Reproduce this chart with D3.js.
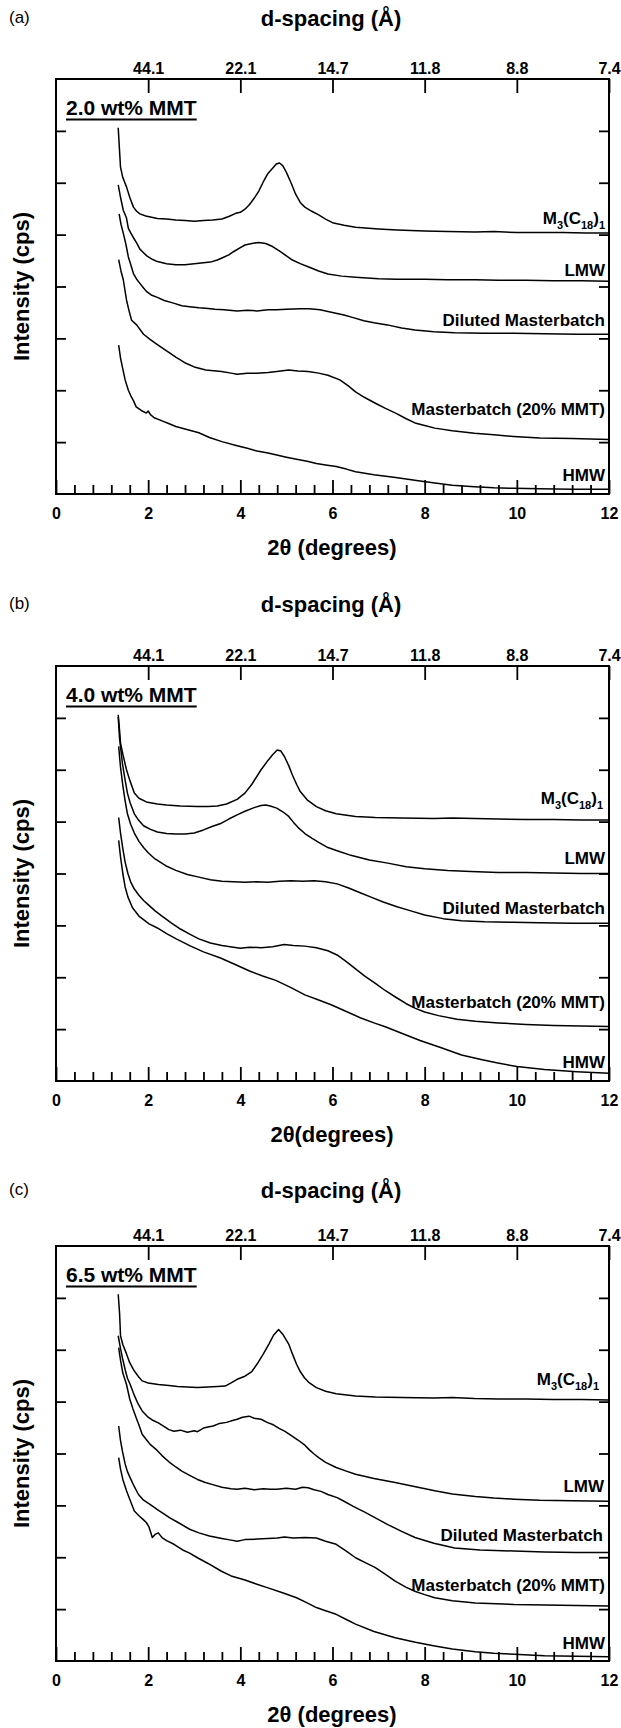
<!DOCTYPE html>
<html>
<head>
<meta charset="utf-8">
<script src="https://cdn.jsdelivr.net/npm/d3@7"></script>
<style>
  body { margin: 0; background: #fff; }
  svg text { font-family: "Liberation Sans", Arial, sans-serif; font-weight: bold; fill: #000; }
</style>
</head>
<body>
<svg id="fig" width="621" height="1728"></svg>
<script>
// ---- data: [2theta (deg), intensity (arb. units, 1 unit per y tick)] ----

// panel (a) 2.0 wt% MMT
const a_m3 = [[1.35,7.06],[1.38,6.6],[1.4,6.3],[1.45,6.1],[1.53,5.92],[1.6,5.72],[1.68,5.53],[1.75,5.45],[1.82,5.4],[1.95,5.36],[2.05,5.34],[2.2,5.31],[2.4,5.3],[2.6,5.28],[2.8,5.27],[3.0,5.26],[3.2,5.27],[3.4,5.28],[3.6,5.3],[3.75,5.35],[3.9,5.41],[4.0,5.43],[4.1,5.49],[4.2,5.58],[4.3,5.7],[4.4,5.84],[4.5,6.02],[4.6,6.18],[4.7,6.28],[4.78,6.36],[4.85,6.38],[4.92,6.33],[5.0,6.2],[5.1,6.0],[5.2,5.78],[5.3,5.62],[5.4,5.53],[5.55,5.45],[5.7,5.38],[5.85,5.3],[6.0,5.23],[6.25,5.18],[6.5,5.14],[7.0,5.11],[7.4,5.09],[8.0,5.07],[8.5,5.06],[9.1,5.05],[9.5,5.06],[10.0,5.04],[10.5,5.04],[11.0,5.04],[11.5,5.03],[12.0,5.03]];
const a_lmw = [[1.35,5.96],[1.4,5.72],[1.46,5.47],[1.53,5.32],[1.57,5.12],[1.63,5.02],[1.68,4.94],[1.75,4.84],[1.82,4.72],[1.9,4.65],[1.97,4.59],[2.1,4.52],[2.2,4.48],[2.4,4.44],[2.6,4.42],[2.8,4.42],[3.0,4.44],[3.2,4.46],[3.35,4.47],[3.5,4.51],[3.6,4.55],[3.75,4.61],[3.85,4.67],[4.0,4.75],[4.1,4.8],[4.25,4.83],[4.4,4.85],[4.55,4.83],[4.7,4.77],[4.87,4.67],[5.0,4.59],[5.13,4.51],[5.3,4.44],[5.47,4.38],[5.7,4.3],[5.9,4.24],[6.2,4.2],[6.5,4.18],[7.0,4.15],[7.4,4.14],[8.0,4.14],[8.5,4.13],[9.1,4.13],[9.6,4.12],[10.2,4.12],[10.8,4.11],[11.4,4.11],[12.0,4.1]];
const a_dil = [[1.37,5.4],[1.41,5.2],[1.46,5.03],[1.52,4.8],[1.57,4.57],[1.63,4.4],[1.68,4.25],[1.75,4.14],[1.82,4.06],[1.9,3.97],[1.97,3.9],[2.08,3.83],[2.2,3.79],[2.35,3.73],[2.55,3.68],[2.73,3.63],[2.9,3.61],[3.1,3.59],[3.25,3.58],[3.45,3.56],[3.65,3.55],[3.93,3.53],[4.15,3.54],[4.36,3.53],[4.6,3.55],[4.79,3.55],[5.0,3.56],[5.3,3.57],[5.5,3.57],[5.73,3.55],[6.0,3.5],[6.25,3.45],[6.45,3.4],[6.68,3.34],[6.9,3.3],[7.19,3.26],[7.5,3.2],[7.79,3.16],[8.2,3.13],[8.65,3.11],[9.3,3.1],[9.93,3.1],[10.6,3.09],[11.3,3.08],[12.0,3.08]];
const a_mb = [[1.36,4.52],[1.41,4.3],[1.46,4.13],[1.53,3.74],[1.58,3.55],[1.64,3.35],[1.75,3.26],[1.9,3.08],[2.04,2.98],[2.2,2.88],[2.4,2.76],[2.6,2.64],[2.82,2.52],[3.0,2.45],[3.25,2.39],[3.59,2.36],[3.8,2.33],[3.93,2.31],[4.15,2.33],[4.36,2.33],[4.6,2.34],[4.79,2.36],[5.05,2.39],[5.25,2.37],[5.47,2.36],[5.7,2.33],[5.9,2.29],[6.16,2.2],[6.35,2.08],[6.5,1.97],[6.7,1.86],[6.93,1.75],[7.15,1.65],[7.37,1.56],[7.6,1.45],[7.79,1.37],[8.0,1.32],[8.22,1.27],[8.6,1.22],[9.08,1.17],[9.5,1.14],[9.93,1.11],[10.5,1.08],[11.2,1.07],[12.0,1.05]];
const a_hmw = [[1.36,2.87],[1.4,2.62],[1.44,2.45],[1.5,2.2],[1.57,2.0],[1.63,1.88],[1.68,1.8],[1.74,1.68],[1.85,1.61],[1.96,1.56],[2.0,1.6],[2.05,1.53],[2.13,1.47],[2.3,1.41],[2.47,1.35],[2.6,1.3],[2.9,1.23],[3.1,1.18],[3.33,1.09],[3.6,1.01],[3.93,0.93],[4.15,0.88],[4.36,0.83],[4.6,0.79],[4.79,0.75],[5.0,0.71],[5.22,0.67],[5.45,0.63],[5.65,0.59],[5.85,0.56],[6.08,0.53],[6.3,0.48],[6.5,0.43],[6.9,0.37],[7.37,0.32],[7.9,0.25],[8.22,0.21],[8.6,0.17],[9.08,0.14],[9.5,0.12],[9.93,0.11],[10.5,0.1],[11.2,0.09],[12.0,0.09]];

// panel (b) 4.0 wt% MMT
const b_m3 = [[1.35,7.06],[1.38,6.75],[1.4,6.52],[1.45,6.3],[1.53,6.0],[1.6,5.8],[1.7,5.55],[1.8,5.45],[1.96,5.38],[2.2,5.34],[2.4,5.32],[2.7,5.3],[3.07,5.29],[3.3,5.29],[3.5,5.3],[3.7,5.34],[3.93,5.43],[4.1,5.55],[4.25,5.72],[4.45,6.0],[4.6,6.18],[4.7,6.29],[4.8,6.38],[4.88,6.36],[4.96,6.25],[5.05,6.08],[5.13,5.9],[5.22,5.72],[5.3,5.58],[5.45,5.42],[5.65,5.29],[5.85,5.21],[6.08,5.15],[6.5,5.1],[6.93,5.08],[7.5,5.07],[8.2,5.06],[8.6,5.07],[9.08,5.06],[9.6,5.05],[10.2,5.04],[10.8,5.04],[11.4,5.03],[12.0,5.03]];
const b_lmw = [[1.35,7.02],[1.38,6.6],[1.44,6.13],[1.5,5.8],[1.55,5.55],[1.61,5.36],[1.7,5.15],[1.79,5.03],[1.9,4.92],[2.05,4.85],[2.2,4.8],[2.4,4.77],[2.6,4.76],[2.8,4.76],[3.0,4.78],[3.2,4.84],[3.4,4.91],[3.59,4.97],[3.75,5.05],[3.93,5.13],[4.1,5.2],[4.3,5.27],[4.45,5.31],[4.55,5.32],[4.65,5.3],[4.79,5.26],[4.92,5.19],[5.05,5.1],[5.15,4.99],[5.25,4.89],[5.4,4.77],[5.55,4.68],[5.7,4.6],[5.9,4.5],[6.1,4.44],[6.4,4.35],[6.8,4.26],[7.2,4.2],[7.6,4.13],[8.0,4.09],[8.5,4.06],[9.0,4.04],[9.6,4.02],[10.2,4.02],[10.8,4.01],[11.4,4.0],[12.0,4.0]];
const b_dil = [[1.36,6.45],[1.4,6.05],[1.45,5.7],[1.5,5.4],[1.55,5.15],[1.62,4.95],[1.7,4.78],[1.8,4.62],[1.9,4.5],[2.0,4.4],[2.15,4.28],[2.38,4.15],[2.6,4.06],[2.85,3.98],[3.1,3.93],[3.35,3.88],[3.6,3.85],[3.85,3.84],[4.1,3.83],[4.35,3.84],[4.6,3.83],[4.85,3.85],[5.1,3.86],[5.35,3.85],[5.6,3.86],[5.85,3.84],[6.1,3.8],[6.35,3.72],[6.6,3.63],[6.85,3.54],[7.1,3.45],[7.4,3.36],[7.7,3.28],[8.0,3.2],[8.4,3.13],[8.8,3.09],[9.3,3.07],[9.9,3.06],[10.5,3.05],[11.2,3.04],[12.0,3.04]];
const b_mb = [[1.36,5.08],[1.4,4.78],[1.45,4.48],[1.5,4.22],[1.56,4.0],[1.62,3.84],[1.7,3.7],[1.8,3.58],[1.9,3.48],[2.0,3.4],[2.15,3.28],[2.3,3.18],[2.5,3.05],[2.7,2.93],[2.9,2.83],[3.1,2.74],[3.35,2.66],[3.6,2.61],[3.85,2.58],[4.0,2.56],[4.2,2.58],[4.45,2.57],[4.7,2.59],[4.95,2.63],[5.15,2.61],[5.4,2.6],[5.65,2.57],[5.9,2.51],[6.1,2.43],[6.3,2.3],[6.5,2.16],[6.7,2.02],[6.93,1.88],[7.15,1.74],[7.4,1.6],[7.6,1.49],[7.8,1.4],[8.0,1.33],[8.3,1.26],[8.7,1.19],[9.1,1.15],[9.6,1.12],[10.2,1.09],[10.8,1.07],[11.4,1.06],[12.0,1.05]];
const b_hmw = [[1.36,4.64],[1.4,4.32],[1.45,4.0],[1.5,3.74],[1.56,3.55],[1.66,3.34],[1.8,3.18],[2.02,3.03],[2.2,2.95],[2.4,2.84],[2.61,2.74],[2.9,2.61],[3.2,2.49],[3.57,2.37],[3.9,2.24],[4.2,2.12],[4.5,2.02],[4.77,1.94],[5.1,1.8],[5.4,1.66],[5.7,1.56],[5.97,1.47],[6.3,1.34],[6.6,1.22],[6.9,1.12],[7.16,1.04],[7.5,0.92],[7.9,0.78],[8.36,0.64],[8.8,0.5],[9.2,0.42],[9.56,0.35],[10.0,0.28],[10.6,0.22],[11.3,0.18],[12.0,0.15]];

// panel (c) 6.5 wt% MMT
const c_m3 = [[1.35,7.07],[1.38,6.7],[1.4,6.27],[1.45,6.1],[1.53,5.92],[1.6,5.75],[1.7,5.59],[1.8,5.47],[1.87,5.4],[2.0,5.36],[2.22,5.33],[2.45,5.31],[2.64,5.29],[2.85,5.28],[3.07,5.27],[3.3,5.28],[3.5,5.29],[3.67,5.3],[3.8,5.36],[3.93,5.43],[4.1,5.49],[4.25,5.58],[4.36,5.72],[4.5,5.92],[4.62,6.11],[4.72,6.28],[4.83,6.39],[4.92,6.3],[5.05,6.11],[5.13,5.92],[5.22,5.72],[5.3,5.58],[5.39,5.46],[5.5,5.36],[5.65,5.27],[5.85,5.2],[6.08,5.15],[6.5,5.11],[6.93,5.09],[7.5,5.08],[8.2,5.07],[8.6,5.08],[9.08,5.06],[9.6,5.05],[10.2,5.05],[10.8,5.04],[11.4,5.04],[12.0,5.03]];
const c_lmw = [[1.35,6.27],[1.4,6.02],[1.44,5.85],[1.5,5.62],[1.55,5.45],[1.61,5.33],[1.7,5.12],[1.78,4.96],[1.87,4.82],[2.0,4.7],[2.1,4.64],[2.22,4.59],[2.35,4.52],[2.45,4.46],[2.56,4.43],[2.7,4.45],[2.85,4.41],[3.0,4.44],[3.07,4.42],[3.2,4.49],[3.3,4.51],[3.41,4.53],[3.55,4.58],[3.7,4.6],[3.85,4.64],[3.93,4.66],[4.05,4.7],[4.19,4.72],[4.3,4.68],[4.45,4.66],[4.58,4.6],[4.7,4.56],[4.85,4.48],[4.96,4.43],[5.1,4.35],[5.25,4.26],[5.4,4.16],[5.5,4.07],[5.6,3.99],[5.7,3.92],[5.85,3.83],[6.08,3.73],[6.3,3.66],[6.5,3.6],[6.9,3.52],[7.36,3.44],[7.8,3.36],[8.22,3.28],[8.6,3.22],[9.1,3.17],[9.5,3.14],[9.94,3.12],[10.5,3.1],[11.2,3.09],[12.0,3.08]];
const c_dil = [[1.36,6.04],[1.4,5.8],[1.45,5.55],[1.53,5.33],[1.6,5.05],[1.67,4.86],[1.74,4.69],[1.8,4.55],[1.87,4.37],[1.95,4.28],[2.05,4.17],[2.17,4.08],[2.3,3.96],[2.45,3.84],[2.6,3.74],[2.73,3.66],[2.9,3.58],[3.07,3.5],[3.24,3.44],[3.4,3.4],[3.6,3.35],[3.8,3.32],[3.93,3.31],[4.1,3.33],[4.3,3.3],[4.5,3.32],[4.65,3.31],[4.79,3.31],[5.0,3.33],[5.2,3.31],[5.35,3.35],[5.47,3.34],[5.6,3.3],[5.75,3.27],[5.9,3.21],[6.1,3.15],[6.25,3.08],[6.45,2.98],[6.7,2.87],[6.93,2.76],[7.2,2.63],[7.5,2.5],[7.79,2.38],[8.2,2.27],[8.65,2.18],[9.2,2.14],[9.94,2.12],[10.6,2.1],[11.3,2.09],[12.0,2.09]];
const c_mb = [[1.36,4.53],[1.4,4.25],[1.44,4.05],[1.5,3.8],[1.55,3.65],[1.61,3.53],[1.7,3.36],[1.79,3.21],[1.9,3.1],[2.04,3.02],[2.2,2.92],[2.35,2.83],[2.47,2.76],[2.65,2.67],[2.9,2.54],[3.1,2.47],[3.33,2.41],[3.6,2.36],[3.8,2.33],[3.93,2.31],[4.1,2.34],[4.36,2.35],[4.6,2.36],[4.8,2.37],[4.96,2.39],[5.15,2.37],[5.4,2.38],[5.65,2.37],[5.85,2.31],[6.08,2.25],[6.3,2.12],[6.5,1.99],[6.7,1.9],[6.93,1.8],[7.15,1.67],[7.36,1.54],[7.6,1.42],[7.8,1.34],[8.0,1.28],[8.22,1.22],[8.6,1.16],[9.1,1.12],[9.94,1.09],[10.6,1.08],[11.3,1.07],[12.0,1.06]];
const c_hmw = [[1.36,3.92],[1.4,3.7],[1.45,3.5],[1.53,3.28],[1.6,3.12],[1.7,2.89],[1.8,2.8],[1.9,2.72],[1.96,2.67],[2.02,2.58],[2.09,2.38],[2.15,2.44],[2.22,2.47],[2.3,2.38],[2.4,2.32],[2.56,2.25],[2.75,2.14],[2.9,2.08],[3.07,1.99],[3.3,1.88],[3.59,1.73],[3.8,1.64],[4.1,1.56],[4.36,1.48],[4.6,1.41],[4.9,1.32],[5.22,1.22],[5.45,1.12],[5.65,1.03],[5.85,0.97],[6.08,0.9],[6.3,0.8],[6.5,0.71],[6.9,0.57],[7.36,0.45],[7.8,0.36],[8.22,0.29],[8.6,0.23],[9.1,0.18],[9.5,0.15],[9.94,0.13],[10.6,0.1],[11.3,0.09],[12.0,0.08]];

// ticks and labels
const xTicks = [0, 2, 4, 6, 8, 10, 12];
const dTickPos = [2, 4, 6, 8, 10, 12];
const dTickLabels = ["44.1", "22.1", "14.7", "11.8", "8.8", "7.4"];
const yTicks = [1, 2, 3, 4, 5, 6, 7];
// series names, [text, subscript?] pieces
const seriesNames = [
  [["M", 0], ["3", 1], ["(C", 0], ["18", 1], [")", 0], ["1", 1]],
  [["LMW", 0]],
  [["Diluted Masterbatch", 0]],
  [["Masterbatch (20% MMT)", 0]],
  [["HMW", 0]]
];

// ---- layout ----
const panels = [
  { tag: "(a)", mmt: "2.0 wt% MMT", xTitle: "2θ (degrees)", top: 79, titleY: 26,
    curves: [a_m3, a_lmw, a_dil, a_mb, a_hmw], labelAt: [5.21, 4.20, 3.24, 1.52, 0.26], labelX: [605, 605, 605, 605, 605] },
  { tag: "(b)", mmt: "4.0 wt% MMT", xTitle: "2θ(degrees)", top: 666, titleY: 612,
    curves: [b_m3, b_lmw, b_dil, b_mb, b_hmw], labelAt: [5.34, 4.18, 3.22, 1.41, 0.25], labelX: [603, 605, 605, 605, 605] },
  { tag: "(c)", mmt: "6.5 wt% MMT", xTitle: "2θ (degrees)", top: 1246, titleY: 1198,
    curves: [c_m3, c_lmw, c_dil, c_mb, c_hmw], labelAt: [5.33, 3.26, 2.31, 1.35, 0.23], labelX: [599, 604, 603, 605, 605] }
];
const plotH = 415;

const svg = d3.select("#fig");
const x = d3.scaleLinear().domain([0, 12]).range([56, 609]);
const minorTicks = d3.range(0, 12.01, 0.4).filter(v => Math.abs(v / 2 - Math.round(v / 2)) > 0.01);

panels.forEach(p => {
  const y = d3.scaleLinear().domain([0, 8]).range([p.top + plotH, p.top]);
  const g = svg.append("g");
  const bottom = p.top + plotH;

  // panel tag and top title
  g.append("text").attr("x", 9).attr("y", p.titleY - 3)
    .style("font-weight", "normal").style("font-size", "17px").text(p.tag);
  g.append("text").attr("x", 331).attr("y", p.titleY)
    .attr("text-anchor", "middle").style("font-size", "22px").text("d-spacing (Å)");

  // bottom axis, major + minor
  const bx = g.append("g").attr("transform", `translate(0,${bottom})`)
    .call(d3.axisBottom(x).tickValues(xTicks).tickSize(-14).tickSizeOuter(0).tickFormat(d3.format("d")));
  bx.selectAll("text").attr("y", 25).attr("dy", null).style("font-size", "16px");
  g.append("g").attr("transform", `translate(0,${bottom})`)
    .call(d3.axisBottom(x).tickValues(minorTicks).tickSize(-9).tickSizeOuter(0).tickFormat(""));

  // top axis (d-spacing)
  const tx = g.append("g").attr("transform", `translate(0,${p.top})`)
    .call(d3.axisTop(x).tickValues(dTickPos).tickSize(-14).tickSizeOuter(0).tickFormat((d, i) => dTickLabels[i]));
  tx.selectAll("text").attr("y", -5.5).attr("dy", null).style("font-size", "16px");

  // left / right ticks, no labels
  g.append("g").attr("transform", "translate(56,0)")
    .call(d3.axisLeft(y).tickValues(yTicks).tickSize(-10).tickSizeOuter(0).tickFormat(""));
  g.append("g").attr("transform", "translate(609,0)")
    .call(d3.axisRight(y).tickValues(yTicks).tickSize(-10).tickSizeOuter(0).tickFormat(""));

  g.selectAll(".domain").remove();
  g.selectAll(".tick line").attr("stroke", "#000").attr("stroke-width", 1.8);

  // frame
  g.append("rect").attr("x", x(0)).attr("y", y(8))
    .attr("width", x(12) - x(0)).attr("height", y(0) - y(8))
    .attr("fill", "none").attr("stroke", "#000").attr("stroke-width", 2);

  // curves
  const line = d3.line().x(d => x(d[0])).y(d => y(d[1]));
  g.selectAll("path.curve").data(p.curves).join("path")
    .attr("class", "curve").attr("d", line)
    .attr("fill", "none").attr("stroke", "#000")
    .attr("stroke-width", 1.5).attr("stroke-linejoin", "round");

  // series labels
  seriesNames.forEach((parts, i) => {
    const t = g.append("text").attr("x", p.labelX[i]).attr("y", y(p.labelAt[i]))
      .attr("text-anchor", "end").style("font-size", "17px");
    let shifted = false;
    parts.forEach(([s, sub]) => {
      const ts = t.append("tspan").text(s);
      if (sub && !shifted) { ts.attr("dy", 5).style("font-size", "11px"); shifted = true; }
      else if (sub) { ts.style("font-size", "11px"); }
      else if (shifted) { ts.attr("dy", -5); shifted = false; }
    });
  });

  // wt% label, underlined
  const mt = g.append("text").attr("x", 66).attr("y", p.top + 36)
    .style("font-size", "21px").text(p.mmt);
  const w = mt.node().getComputedTextLength();
  g.append("line").attr("x1", 66).attr("x2", 66 + w)
    .attr("y1", p.top + 40.5).attr("y2", p.top + 40.5)
    .attr("stroke", "#000").attr("stroke-width", 2);

  // axis titles
  g.append("text").attr("transform", `translate(29,${(p.top + bottom) / 2}) rotate(-90)`)
    .attr("text-anchor", "middle").style("font-size", "22px").text("Intensity (cps)");
  g.append("text").attr("x", 332).attr("y", bottom + 60.5)
    .attr("text-anchor", "middle").style("font-size", "22px").text(p.xTitle);
});
</script>
</body>
</html>
